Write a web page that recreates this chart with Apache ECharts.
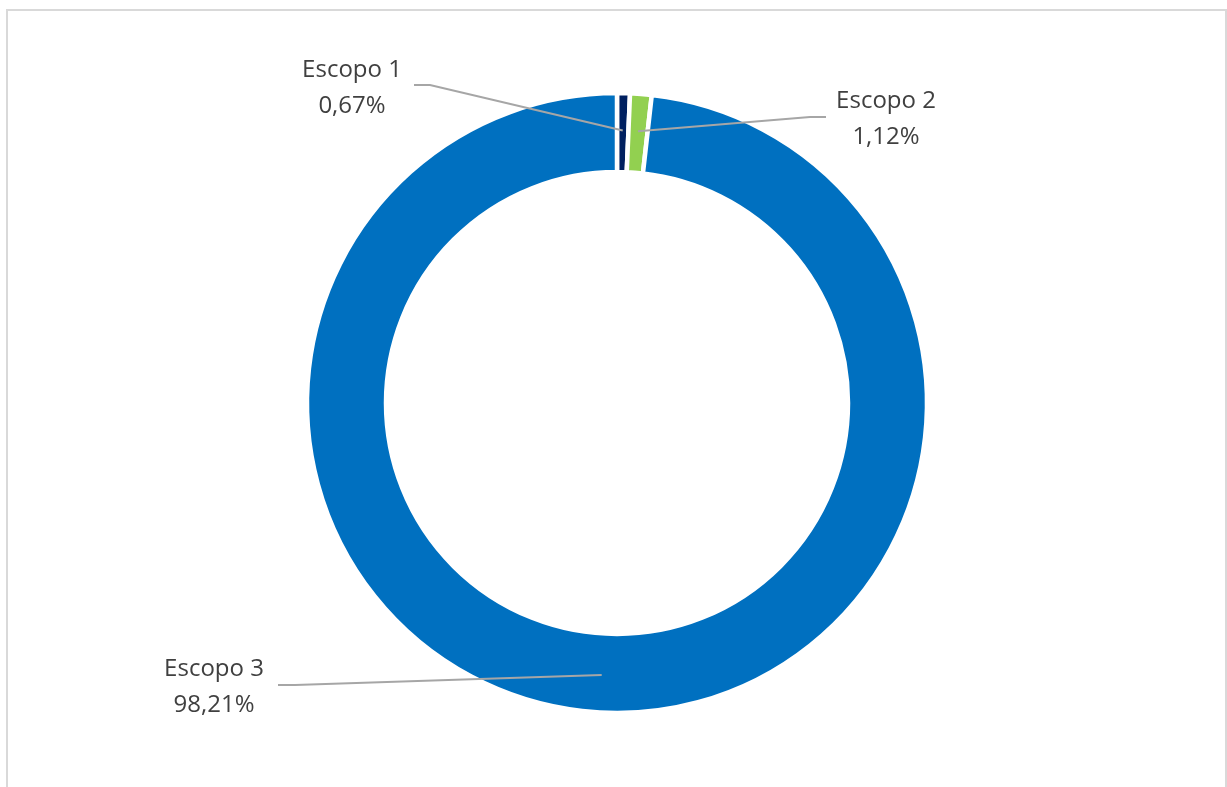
<!DOCTYPE html>
<html><head><meta charset="utf-8">
<script src="https://cdn.jsdelivr.net/npm/echarts@6/dist/echarts.min.js"></script>
<style>html,body{margin:0;padding:0;background:#fff}#c{width:1227px;height:787px}</style>
</head><body><div id="c"></div>
<script>
const categories = ['Escopo 1', 'Escopo 2', 'Escopo 3'];
const values = [0.67, 1.12, 98.21];
const colors = ['#002060', '#92D050', '#0070C0'];
// label centers and leader elbow points (layout)
const labelPos = [[352, 88], [886, 119], [214, 687]];
const elbows = [[[430, 85], [414, 85]], [[810, 117], [826, 117]], [[295, 685], [278, 685]]];

const cx = 617, cy = 403, rIn = 231, rOut = 310;
const total = values.reduce((a, b) => a + b, 0);
let acc = 0;
const midAngles = values.map(v => { const m = (acc + v / 2) / total * 2 * Math.PI; acc += v; return m; });

const pieData = categories.map((n, i) => ({name: n, value: values[i], itemStyle: {color: colors[i]}}));

const chart = echarts.init(document.getElementById('c'), null, {renderer: 'canvas'});
chart.setOption({
  animation: false,
  backgroundColor: '#fff',
  graphic: [{
    type: 'rect', shape: {x: 7, y: 10, width: 1219, height: 800},
    style: {fill: 'none', stroke: '#d9d9d9', lineWidth: 2}, silent: true
  }],
  series: [{
    type: 'pie',
    z: 2,
    center: [cx, cy],
    radius: [rIn, rOut],
    startAngle: 90,
    clockwise: true,
    data: pieData,
    itemStyle: {borderColor: '#fff', borderWidth: 4.5},
    label: {show: false},
    labelLine: {show: false},
    emphasis: {disabled: true}
  }, {
    type: 'pie',
    z: 5,
    center: [cx, cy],
    radius: [rIn, rOut],
    startAngle: 90,
    clockwise: true,
    avoidLabelOverlap: false,
    data: categories.map((n, i) => ({name: n, value: values[i]})),
    itemStyle: {color: 'rgba(0,0,0,0)', borderWidth: 0},
    label: {
      show: true,
      formatter: p => p.name + '\n' + p.value.toFixed(2).replace('.', ',') + '%',
      color: '#404040',
      fontFamily: 'Open Sans',
      fontSize: 24,
      lineHeight: 36,
      align: 'center'
    },
    labelLine: {show: true, lineStyle: {color: '#a6a6a6', width: 2}},
    labelLayout: params => {
      const i = params.dataIndex;
      const a = midAngles[i];
      const rm = (rIn + rOut) / 2 + 2;
      const start = [cx + rm * Math.sin(a), cy - rm * Math.cos(a)];
      return {
        x: labelPos[i][0], y: labelPos[i][1],
        align: 'center', verticalAlign: 'middle',
        labelLinePoints: [start, elbows[i][0], elbows[i][1]]
      };
    },
    emphasis: {disabled: true},
    silent: true
  }]
});
</script></body></html>
